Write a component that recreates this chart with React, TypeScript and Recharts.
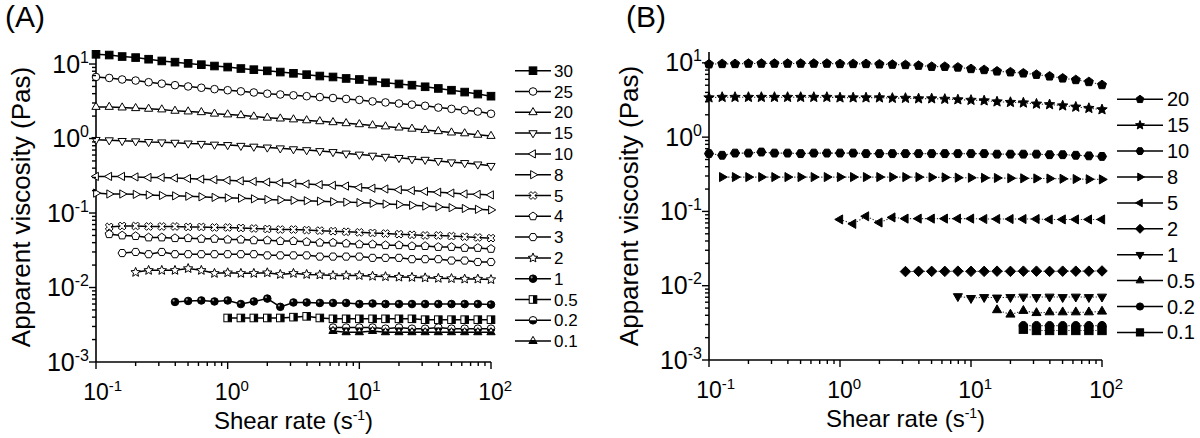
import React from 'react';
import { LineChart, Line, XAxis, YAxis } from 'recharts';

const FONT = '"Liberation Sans", Arial, Helvetica, sans-serif';

// ---------- shared data ----------
const shearRate = [0.1, 0.126, 0.158, 0.2, 0.251, 0.316, 0.398, 0.501, 0.631, 0.794, 1, 1.26, 1.58, 2, 2.51, 3.16, 3.98, 5.01, 6.31, 7.94, 10, 12.6, 15.8, 20, 25.1, 31.6, 39.8, 50.1, 63.1, 79.4, 100];

const xMajorTicks = [0.1, 1, 10, 100];
const xMinorTicks = [0.2, 0.3, 0.4, 0.5, 0.6, 0.7, 0.8, 0.9, 2, 3, 4, 5, 6, 7, 8, 9, 20, 30, 40, 50, 60, 70, 80, 90];
const yMajorTicks = [0.001, 0.01, 0.1, 1, 10];
const yMinorTicks = [0.002, 0.003, 0.004, 0.005, 0.006, 0.007, 0.008, 0.009, 0.02, 0.03, 0.04, 0.05, 0.06, 0.07, 0.08, 0.09, 0.2, 0.3, 0.4, 0.5, 0.6, 0.7, 0.8, 0.9, 2, 3, 4, 5, 6, 7, 8, 9];

// ---------- panel A ----------
const concA = ['30', '25', '20', '15', '10', '8', '5', '4', '3', '2', '1', '0.5', '0.2', '0.1'];
const startA = [0, 0, 0, 0, 0, 0, 1, 1, 2, 3, 6, 10, 18, 18];
const a30 = [13.5, 13.2, 12.6, 12.2, 11.6, 11.0, 10.6, 10.2, 9.8, 9.4, 9.1, 8.7, 8.4, 8.1, 7.8, 7.5, 7.2, 6.9, 6.7, 6.4, 6.2, 5.9, 5.6, 5.4, 5.2, 4.95, 4.7, 4.45, 4.2, 3.95, 3.7];
const a25 = [6.7, 6.5, 6.2, 6.0, 5.7, 5.45, 5.2, 5.0, 4.8, 4.6, 4.45, 4.3, 4.15, 4.0, 3.9, 3.8, 3.7, 3.6, 3.5, 3.4, 3.3, 3.15, 3.05, 2.95, 2.85, 2.75, 2.6, 2.5, 2.4, 2.3, 2.15];
const a20 = [2.65, 2.65, 2.6, 2.55, 2.5, 2.45, 2.35, 2.3, 2.25, 2.15, 2.1, 2.05, 1.97, 1.9, 1.85, 1.8, 1.75, 1.7, 1.65, 1.6, 1.55, 1.5, 1.45, 1.4, 1.35, 1.3, 1.25, 1.2, 1.17, 1.12, 1.08];
const a15 = [0.96, 0.95, 0.93, 0.92, 0.9, 0.89, 0.88, 0.86, 0.85, 0.83, 0.82, 0.8, 0.78, 0.76, 0.74, 0.72, 0.7, 0.68, 0.66, 0.63, 0.61, 0.59, 0.57, 0.55, 0.53, 0.52, 0.5, 0.48, 0.47, 0.45, 0.43];
const a10 = [0.31, 0.31, 0.31, 0.305, 0.3, 0.3, 0.295, 0.29, 0.285, 0.28, 0.275, 0.27, 0.265, 0.26, 0.255, 0.25, 0.245, 0.24, 0.235, 0.23, 0.22, 0.215, 0.21, 0.205, 0.2, 0.195, 0.19, 0.185, 0.18, 0.178, 0.175];
const a8 = [0.185, 0.18, 0.18, 0.178, 0.175, 0.172, 0.17, 0.168, 0.165, 0.162, 0.16, 0.158, 0.155, 0.152, 0.15, 0.148, 0.146, 0.144, 0.142, 0.14, 0.138, 0.135, 0.132, 0.13, 0.127, 0.124, 0.121, 0.118, 0.115, 0.112, 0.11];
const a5 = [0.065, 0.067, 0.067, 0.066, 0.066, 0.066, 0.065, 0.065, 0.064, 0.064, 0.063, 0.062, 0.061, 0.06, 0.06, 0.059, 0.058, 0.057, 0.056, 0.055, 0.054, 0.053, 0.052, 0.051, 0.05, 0.05, 0.049, 0.048, 0.047, 0.046];
const a4 = [0.052, 0.05, 0.049, 0.047, 0.047, 0.046, 0.046, 0.045, 0.045, 0.044, 0.044, 0.043, 0.043, 0.042, 0.042, 0.041, 0.04, 0.04, 0.039, 0.038, 0.038, 0.037, 0.037, 0.036, 0.036, 0.035, 0.035, 0.034, 0.034, 0.033];
const a3 = [0.029, 0.03, 0.028, 0.03, 0.028, 0.028, 0.028, 0.028, 0.028, 0.028, 0.028, 0.027, 0.027, 0.027, 0.027, 0.026, 0.026, 0.026, 0.026, 0.025, 0.025, 0.025, 0.024, 0.024, 0.024, 0.023, 0.023, 0.022, 0.022];
const a2 = [0.016, 0.017, 0.017, 0.017, 0.018, 0.017, 0.0155, 0.0158, 0.0155, 0.0155, 0.0158, 0.015, 0.0155, 0.015, 0.0148, 0.0145, 0.0145, 0.0145, 0.0142, 0.014, 0.0138, 0.0137, 0.0135, 0.0133, 0.0132, 0.013, 0.013, 0.0128];
const a1 = [0.0064, 0.0066, 0.0067, 0.0065, 0.0067, 0.006, 0.0065, 0.0071, 0.0055, 0.0063, 0.0063, 0.0062, 0.0062, 0.0062, 0.006, 0.0061, 0.006, 0.006, 0.006, 0.006, 0.006, 0.006, 0.006, 0.006, 0.0059];
const a05 = [0.0039, 0.0039, 0.0039, 0.0039, 0.0039, 0.004, 0.0041, 0.0039, 0.0038, 0.0038, 0.0038, 0.0038, 0.0038, 0.0038, 0.0038, 0.0037, 0.0037, 0.0037, 0.0037, 0.0037, 0.0037];
const a02 = [0.0029, 0.0029, 0.0029, 0.0029, 0.0028, 0.0029, 0.0028, 0.0028, 0.0029, 0.0028, 0.0028, 0.0028, 0.0028];
const a01 = [0.0026, 0.0025, 0.0025, 0.0026, 0.0025, 0.0025, 0.0025, 0.0025, 0.0025, 0.0025, 0.0025, 0.0025, 0.0025];
const valuesA = [a30, a25, a20, a15, a10, a8, a5, a4, a3, a2, a1, a05, a02, a01];

// ---------- panel B ----------
const concB = ['20', '15', '10', '8', '5', '2', '1', '0.5', '0.2', '0.1'];
const startB = [0, 0, 0, 1, 10, 15, 19, 22, 24, 24];
const b20 = [9.6, 9.7, 9.7, 9.8, 9.8, 9.8, 9.8, 9.8, 9.8, 9.8, 9.7, 9.7, 9.7, 9.6, 9.5, 9.4, 9.2, 8.9, 8.9, 8.7, 8.3, 8.05, 7.7, 7.5, 7.25, 6.95, 6.6, 6.2, 5.9, 5.55, 5.05];
const b15 = [3.4, 3.45, 3.45, 3.45, 3.45, 3.45, 3.45, 3.45, 3.45, 3.45, 3.4, 3.4, 3.4, 3.4, 3.35, 3.35, 3.3, 3.3, 3.25, 3.2, 3.15, 3.1, 3.0, 2.95, 2.9, 2.8, 2.75, 2.65, 2.55, 2.45, 2.35];
const b10 = [0.6, 0.57, 0.61, 0.61, 0.63, 0.61, 0.61, 0.6, 0.61, 0.61, 0.61, 0.61, 0.6, 0.6, 0.6, 0.6, 0.6, 0.6, 0.6, 0.6, 0.6, 0.6, 0.59, 0.59, 0.59, 0.59, 0.58, 0.58, 0.57, 0.56, 0.55];
const b8 = [0.29, 0.29, 0.29, 0.29, 0.29, 0.29, 0.29, 0.29, 0.29, 0.29, 0.29, 0.29, 0.29, 0.29, 0.29, 0.29, 0.288, 0.287, 0.285, 0.284, 0.283, 0.282, 0.28, 0.279, 0.278, 0.277, 0.275, 0.273, 0.271, 0.27];
const b5 = [0.078, 0.068, 0.086, 0.071, 0.083, 0.08, 0.08, 0.08, 0.08, 0.08, 0.08, 0.079, 0.079, 0.079, 0.079, 0.079, 0.078, 0.078, 0.078, 0.078, 0.078];
const b2 = [0.0155, 0.0156, 0.0156, 0.0156, 0.0157, 0.0156, 0.0156, 0.0157, 0.0156, 0.0157, 0.0157, 0.0156, 0.0157, 0.0157, 0.0157, 0.0158];
const b1 = [0.0072, 0.0068, 0.007, 0.0069, 0.007, 0.0071, 0.007, 0.0071, 0.007, 0.0071, 0.007, 0.0071];
const b05 = [0.0047, 0.0041, 0.0046, 0.0043, 0.0044, 0.0044, 0.0044, 0.0044, 0.0045];
const b02 = [0.0029, 0.0029, 0.0029, 0.0029, 0.0029, 0.0029, 0.0029];
const b01 = [0.0026, 0.0025, 0.0025, 0.0025, 0.0025, 0.0025, 0.0025];
const valuesB = [b20, b15, b10, b8, b5, b2, b1, b05, b02, b01];

// ---------- styles ----------
const shapesA = ['square', 'circle', 'triUp', 'triDown', 'triLeft', 'triRight', 'cross', 'pentagon', 'hexagon', 'star', 'ball', 'halfSquare', 'halfCircle', 'halfTri'];
const filledA = [true, false, false, false, false, false, false, false, false, false, true, false, false, false];
const shapesB = ['pentagon', 'star', 'hexagon', 'triRight', 'triLeft', 'diamond', 'triDown', 'triUp', 'circle', 'square'];

const buildRows = (start: number, vals: number[]) => vals.map((v, i) => ({ x: shearRate[start + i], y: v }));

const polyPts = (cx: number, cy: number, R: number, n: number, rot: number, inner?: number) => {
  const count = inner ? n * 2 : n;
  const pts: string[] = [];
  for (let i = 0; i < count; i++) {
    const rad = inner && i % 2 === 1 ? R * inner : R;
    const a = ((rot + (i * 360) / count) * Math.PI) / 180;
    pts.push(`${(cx + rad * Math.cos(a)).toFixed(2)},${(cy + rad * Math.sin(a)).toFixed(2)}`);
  }
  return pts.join(' ');
};

const crossPts = (cx: number, cy: number, R: number) => {
  const a = R * 0.32;
  const base = [[a, R], [a, a], [R, a], [R, -a], [a, -a], [a, -R], [-a, -R], [-a, -a], [-R, -a], [-R, a], [-a, a], [-a, R]];
  const c = Math.SQRT1_2;
  return base.map(([x, y]) => `${(cx + (x - y) * c).toFixed(2)},${(cy + (x + y) * c).toFixed(2)}`).join(' ');
};

function Marker({ shape, cx, cy, r, filled }: { shape: string; cx: number; cy: number; r: number; filled: boolean }) {
  const fill = filled ? '#000' : '#fff';
  const common = { stroke: '#000', strokeWidth: 1 };
  switch (shape) {
    case 'square':
      return <rect x={cx - r} y={cy - r} width={2 * r} height={2 * r} fill={fill} {...common} />;
    case 'circle':
      return <circle cx={cx} cy={cy} r={r} fill={fill} {...common} />;
    case 'ball':
      return (
        <g>
          <circle cx={cx} cy={cy} r={r} fill="#000" {...common} />
          <circle cx={cx - r * 0.35} cy={cy - r * 0.35} r={r * 0.28} fill="#999" />
        </g>
      );
    case 'triUp':
      return <polygon points={polyPts(cx, cy, r * 1.25, 3, -90)} fill={fill} {...common} />;
    case 'triDown':
      return <polygon points={polyPts(cx, cy, r * 1.25, 3, 90)} fill={fill} {...common} />;
    case 'triLeft':
      return <polygon points={polyPts(cx, cy, r * 1.25, 3, 180)} fill={fill} {...common} />;
    case 'triRight':
      return <polygon points={polyPts(cx, cy, r * 1.25, 3, 0)} fill={fill} {...common} />;
    case 'pentagon':
      return <polygon points={polyPts(cx, cy, r * 1.12, 5, -90)} fill={fill} {...common} />;
    case 'hexagon':
      return <polygon points={polyPts(cx, cy, r * 1.08, 6, 0)} fill={fill} {...common} />;
    case 'diamond':
      return <polygon points={polyPts(cx, cy, r * 1.25, 4, 0)} fill={fill} {...common} />;
    case 'star':
      return <polygon points={polyPts(cx, cy, r * 1.3, 5, -90, 0.45)} fill={fill} {...common} />;
    case 'cross':
      return <polygon points={crossPts(cx, cy, r * 1.1)} fill={fill} {...common} />;
    case 'halfSquare':
      return (
        <g>
          <rect x={cx - r} y={cy - r} width={2 * r} height={2 * r} fill="#fff" />
          <rect x={cx} y={cy - r} width={r} height={2 * r} fill="#000" />
          <rect x={cx - r} y={cy - r} width={2 * r} height={2 * r} fill="none" {...common} />
        </g>
      );
    case 'halfCircle':
      return (
        <g>
          <circle cx={cx} cy={cy} r={r} fill="#fff" />
          <path d={`M${cx - r},${cy} A${r},${r} 0 0 0 ${cx + r},${cy} Z`} fill="#000" />
          <circle cx={cx} cy={cy} r={r} fill="none" {...common} />
        </g>
      );
    case 'halfTri': {
      const R = r * 1.25;
      const bottom = `${cx - 0.433 * R},${cy - 0.25 * R} ${cx + 0.433 * R},${cy - 0.25 * R} ${cx + 0.866 * R},${cy + 0.5 * R} ${cx - 0.866 * R},${cy + 0.5 * R}`;
      return (
        <g>
          <polygon points={polyPts(cx, cy, R, 3, -90)} fill="#fff" />
          <polygon points={bottom} fill="#000" />
          <polygon points={polyPts(cx, cy, R, 3, -90)} fill="none" {...common} />
        </g>
      );
    }
    default:
      return <circle cx={cx} cy={cy} r={r} fill={fill} {...common} />;
  }
}

const exponentOf = (v: number) => String(Math.round(Math.log10(v)));

const XTick = (props: any) => {
  const { x, y, payload } = props;
  const v = payload.value;
  const major = xMajorTicks.includes(v);
  return (
    <g>
      <line x1={x} x2={x} y1={y} y2={y + (major ? 7 : 4)} stroke="#000" strokeWidth={1.4} />
      {major && (
        <text x={x - 12.8} y={y + 38} fontFamily={FONT} fontSize={23} fill="#000">
          10
          <tspan dy={-9} fontSize={15}>{exponentOf(v)}</tspan>
        </text>
      )}
    </g>
  );
};

const YTick = (props: any) => {
  const { x, y, payload } = props;
  const v = payload.value;
  const major = yMajorTicks.includes(v);
  return (
    <g>
      <line x1={x} x2={x - (major ? 7 : 4)} y1={y} y2={y} stroke="#000" strokeWidth={1.4} />
      {major && (
        <text x={x - 7} y={y + 8.5} textAnchor="end" fontFamily={FONT} fontSize={25} fill="#000">
          10
          <tspan dy={-10} fontSize={16}>{exponentOf(v)}</tspan>
        </text>
      )}
    </g>
  );
};

const XTitle = (props: any) => {
  const vb = props.viewBox || {};
  return (
    <text x={vb.x + vb.width / 2} y={vb.y + 67} textAnchor="middle" fontFamily={FONT} fontSize={24} fill="#000">
      Shear rate (s
      <tspan dy={-9} fontSize={14}>-1</tspan>
      <tspan dy={9}>)</tspan>
    </text>
  );
};

const YTitle = (props: any) => {
  const vb = props.viewBox || {};
  const bx = vb.x + vb.width - props.gap;
  const cy = vb.y + vb.height / 2;
  return (
    <text x={bx} y={cy} transform={`rotate(-90 ${bx} ${cy})`} textAnchor="middle" fontFamily={FONT} fontSize={26} fill="#000">
      Apparent viscosity (Pas)
    </text>
  );
};

const allXTicks = [...xMajorTicks, ...xMinorTicks].sort((a, b) => a - b);
const allYTicks = [...yMajorTicks, ...yMinorTicks].sort((a, b) => a - b);

const X_AXIS_H = 40;
const Y_AXIS_W = 60;

function Panel({ plotLeft, plotRight, plotTop, plotBottom, yTop, values, starts, shapes, filled, r, dotted, titleGap }: any) {
  const margin = { top: plotTop, right: 600 - plotRight, bottom: 438 - plotBottom - X_AXIS_H, left: plotLeft - Y_AXIS_W };
  return (
    <LineChart width={600} height={438} margin={margin}>
      <XAxis
        type="number"
        dataKey="x"
        scale="log"
        domain={[0.1, 100]}
        ticks={allXTicks}
        interval={0}
        height={X_AXIS_H}
        tickSize={0}
        tickMargin={0}
        tickLine={false}
        axisLine={{ stroke: '#000', strokeWidth: 1.6 }}
        tick={(p: any) => <XTick {...p} />}
        label={<XTitle />}
      />
      <YAxis
        type="number"
        dataKey="y"
        scale="log"
        domain={[0.001, yTop]}
        ticks={allYTicks}
        interval={0}
        width={Y_AXIS_W}
        tickSize={0}
        tickMargin={0}
        tickLine={false}
        axisLine={{ stroke: '#000', strokeWidth: 1.6 }}
        tick={(p: any) => <YTick {...p} />}
        label={<YTitle gap={titleGap} />}
      />
      {values.map((vals: number[], k: number) => (
        <Line
          key={k}
          data={buildRows(starts[k], vals)}
          dataKey="y"
          type="linear"
          isAnimationActive={false}
          stroke={dotted ? '#333' : '#000'}
          strokeWidth={dotted ? 1.1 : 1.5}
          strokeDasharray={dotted ? '1.3 1.7' : undefined}
          dot={(p: any) =>
            p.cx == null || p.cy == null ? (
              <g key={`e${p.index}`} />
            ) : (
              <Marker key={`d${p.index}`} shape={shapes[k]} cx={p.cx} cy={p.cy} r={r} filled={filled[k]} />
            )
          }
          activeDot={false}
        />
      ))}
    </LineChart>
  );
}

function Legends() {
  return (
    <svg width={1200} height={438} style={{ position: 'absolute', left: 0, top: 0, pointerEvents: 'none' }}>
      <text x={5} y={27} fontFamily={FONT} fontSize={30} fill="#000">(A)</text>
      <text x={626} y={27} fontFamily={FONT} fontSize={30} fill="#000">(B)</text>
      {concA.map((c, k) => {
        const cy = 70.7 + k * 20.8;
        return (
          <g key={`la${k}`}>
            <line x1={515} x2={551} y1={cy} y2={cy} stroke="#000" strokeWidth={1.5} />
            <Marker shape={shapesA[k]} cx={533} cy={cy} r={3.8} filled={filledA[k]} />
            <text x={554} y={cy + 6} fontFamily={FONT} fontSize={17} fill="#000">{c}</text>
          </g>
        );
      })}
      {concB.map((c, k) => {
        const cy = 99.3 + k * 25.9;
        return (
          <g key={`lb${k}`}>
            <line x1={1117} x2={1163} y1={cy} y2={cy} stroke="#000" strokeWidth={1.5} />
            <Marker shape={shapesB[k]} cx={1140} cy={cy} r={3.6} filled={true} />
            <text x={1167} y={cy + 7} fontFamily={FONT} fontSize={20} fill="#000">{c}</text>
          </g>
        );
      })}
    </svg>
  );
}

export default function App() {
  return (
    <div style={{ position: 'absolute', left: 0, top: 0, width: 1200, height: 438, background: '#fff', fontFamily: FONT }}>
      <div style={{ position: 'absolute', left: 0, top: 0 }}>
        <Panel
          plotLeft={96}
          plotRight={491}
          plotTop={52}
          plotBottom={362}
          yTop={14.5}
          values={valuesA}
          starts={startA}
          shapes={shapesA}
          filled={filledA}
          r={3.8}
          dotted={false}
          titleGap={66}
        />
      </div>
      <div style={{ position: 'absolute', left: 600, top: 0 }}>
        <Panel
          plotLeft={109}
          plotRight={502}
          plotTop={52}
          plotBottom={360}
          yTop={14}
          values={valuesB}
          starts={startB}
          shapes={shapesB}
          filled={shapesB.map(() => true)}
          r={4.2}
          dotted={true}
          titleGap={71}
        />
      </div>
      <Legends />
    </div>
  );
}
